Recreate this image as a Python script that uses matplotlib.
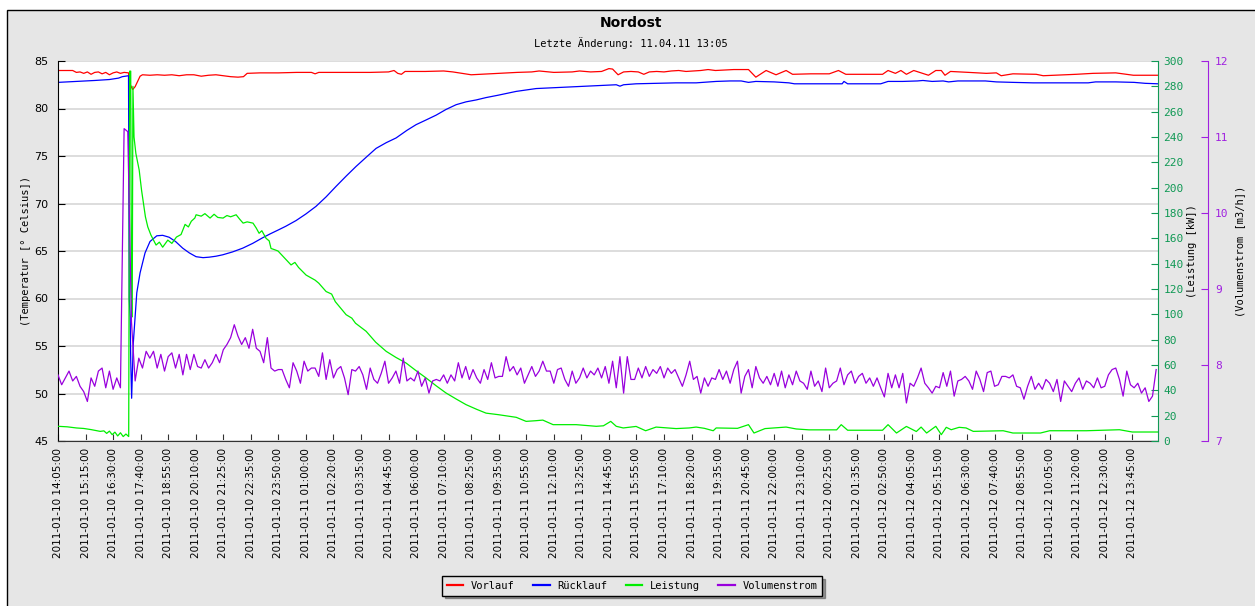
import numpy as np
import matplotlib.pyplot as plt
from matplotlib.patches import Rectangle
from matplotlib.lines import Line2D

# x axis: measurement index (5 min steps), one label every 15 points
x_labels = [
    "2011-01-10 14:05:00", "2011-01-10 15:15:00", "2011-01-10 16:30:00", "2011-01-10 17:40:00",
    "2011-01-10 18:55:00", "2011-01-10 20:10:00", "2011-01-10 21:25:00", "2011-01-10 22:35:00",
    "2011-01-10 23:50:00", "2011-01-11 01:00:00", "2011-01-11 02:20:00", "2011-01-11 03:35:00",
    "2011-01-11 04:45:00", "2011-01-11 06:00:00", "2011-01-11 07:10:00", "2011-01-11 08:25:00",
    "2011-01-11 09:35:00", "2011-01-11 10:55:00", "2011-01-11 12:10:00", "2011-01-11 13:25:00",
    "2011-01-11 14:45:00", "2011-01-11 15:55:00", "2011-01-11 17:10:00", "2011-01-11 18:20:00",
    "2011-01-11 19:35:00", "2011-01-11 20:45:00", "2011-01-11 22:00:00", "2011-01-11 23:10:00",
    "2011-01-12 00:25:00", "2011-01-12 01:35:00", "2011-01-12 02:50:00", "2011-01-12 04:05:00",
    "2011-01-12 05:15:00", "2011-01-12 06:30:00", "2011-01-12 07:40:00", "2011-01-12 08:55:00",
    "2011-01-12 10:05:00", "2011-01-12 11:20:00", "2011-01-12 12:30:00", "2011-01-12 13:45:00",
]
label_step = 15
n_points = 599

# Vorlauf temperature (index, degC)
vorlauf = [
    (0, 84.0), (8, 84.0), (10, 83.8), (12, 83.85), (14, 83.7), (16, 83.85), (18, 83.6), (20, 83.8),
    (22, 83.85), (24, 83.65), (26, 83.8), (28, 83.55), (30, 83.75), (32, 83.85), (34, 83.7), (36, 83.8),
    (38.4, 83.75), (38.8, 82.7), (40.7, 82.0), (42, 82.3), (44.7, 83.4), (46, 83.55), (50, 83.5),
    (54, 83.55), (58, 83.5), (62, 83.55), (66, 83.45), (70, 83.55), (74, 83.55), (78, 83.4), (82, 83.5),
    (86, 83.55), (90, 83.45), (94, 83.35), (98, 83.3), (101, 83.35), (103, 83.7), (110, 83.75),
    (120, 83.75), (130, 83.8), (138, 83.8), (140, 83.65), (142, 83.8), (150, 83.8), (160, 83.8),
    (170, 83.8), (180, 83.85), (183, 84.0), (185, 83.7), (187, 83.6), (189, 83.9), (200, 83.9),
    (210, 83.95), (215, 83.85), (220, 83.7), (225, 83.55), (230, 83.6), (235, 83.65), (240, 83.7),
    (245, 83.75), (250, 83.8), (258, 83.85), (262, 83.95), (270, 83.8), (280, 83.85), (284, 83.95),
    (290, 83.85), (296, 83.9), (300, 84.2), (302, 84.15), (305, 83.55), (308, 83.85), (312, 83.9),
    (316, 83.85), (319, 83.6), (322, 83.85), (326, 83.9), (330, 83.85), (334, 83.95), (338, 84.0),
    (342, 83.9), (346, 83.95), (350, 84.0), (354, 84.1), (358, 84.0), (368, 84.1), (372, 84.1),
    (376, 84.1), (380, 83.3), (385.6, 84.0), (391, 83.55), (396.5, 84.0), (400, 83.6), (410, 83.65),
    (420, 83.65), (425, 84.0), (429, 83.6), (440, 83.6), (449, 83.6), (452, 84.0), (456, 83.7),
    (459, 84.0), (462, 83.6), (466, 84.0), (474, 83.5), (478, 84.0), (481, 84.0), (483, 83.5),
    (486, 83.9), (496, 83.8), (505.5, 83.7), (511, 83.75), (513.6, 83.45), (520, 83.65),
    (532.7, 83.6), (536.5, 83.45), (554.5, 83.6), (563.6, 83.7), (576, 83.75), (585.6, 83.5),
    (599, 83.5),
]

# Ruecklauf temperature (index, degC)
ruecklauf = [
    (0, 82.75), (10, 82.85), (20, 82.95), (28, 83.05), (33, 83.2), (35, 83.35), (38.4, 83.45),
    (38.8, 60.0), (39.3, 58.0), (39.6, 53.5), (40.1, 49.5), (41.0, 55.3), (42.9, 60.6), (44.7, 62.7),
    (47.4, 64.8), (50.1, 66.0), (53.8, 66.6), (57, 66.65), (60.5, 66.45), (64, 66.0), (67.9, 65.3),
    (71.5, 64.8), (75.2, 64.4), (79, 64.3), (82.3, 64.35), (86, 64.45), (89.7, 64.6), (95, 64.9),
    (100.6, 65.3), (106, 65.8), (111.5, 66.4), (115.5, 66.8), (119.8, 67.2), (124, 67.6),
    (129.6, 68.2), (135, 68.9), (140.5, 69.7), (146, 70.7), (151.4, 71.8), (157, 72.9),
    (162.3, 73.9), (168, 74.9), (173.2, 75.8), (178.7, 76.4), (184.1, 76.9), (190, 77.7),
    (195, 78.3), (200.5, 78.8), (205.9, 79.3), (211.3, 79.9), (216.8, 80.4), (222.2, 80.7),
    (227.7, 80.9), (233.1, 81.15), (239.7, 81.4), (249.5, 81.8), (260.4, 82.1), (271.3, 82.2),
    (282.2, 82.3), (293.1, 82.4), (304, 82.5), (306, 82.35), (308, 82.5), (314.8, 82.6),
    (325.7, 82.65), (336.6, 82.7), (347.5, 82.7), (358.4, 82.85), (366, 82.9), (372, 82.9),
    (376, 82.75), (380, 82.85), (390, 82.8), (398, 82.7), (401, 82.6), (410, 82.6), (420, 82.6),
    (427, 82.6), (428, 82.85), (430, 82.6), (440, 82.6), (448, 82.6), (452, 82.85), (460, 82.85),
    (468, 82.9), (471, 82.95), (476, 82.85), (482, 82.9), (485, 82.8), (490, 82.9), (505, 82.9),
    (511, 82.8), (520, 82.75), (531, 82.7), (545, 82.7), (561, 82.7), (565, 82.8), (576, 82.8),
    (586, 82.75), (592, 82.65), (599, 82.6),
]

# Leistung (index, kW)
leistung = [
    (0, 11.6), (5, 11.2), (10, 10.3), (14, 9.9), (18, 9.0), (21, 8.2), (23, 7.6), (25, 8.0),
    (26.5, 6.0), (28, 7.8), (29.5, 5.0), (31, 7.0), (32.5, 4.0), (34, 6.5), (35.5, 3.5), (37, 5.5),
    (38.5, 3.5), (39.0, 292.0), (39.6, 292.0), (40.0, 98.0), (40.4, 98.0), (40.8, 280.0),
    (41.4, 240.0), (42.4, 227.0), (44.2, 214.0), (45.5, 198.0), (47.6, 177.0), (48.9, 169.0),
    (50.6, 162.6), (53.4, 154.7), (55.2, 157.0), (57.0, 153.0), (59.8, 158.6), (62, 156.0),
    (64.5, 161.0), (67, 163.0), (69.2, 171.0), (71, 169.0), (72.6, 173.5), (74.5, 176.0),
    (75.2, 178.6), (78, 177.5), (80, 179.5), (82.8, 176.0), (85, 179.0), (87, 176.5), (89.9, 176.0),
    (92, 178.0), (94, 177.0), (97, 178.6), (99, 175.0), (100.8, 172.0), (103, 173.0),
    (106.2, 172.0), (108, 168.0), (109.5, 164.0), (111, 166.0), (113.3, 160.0), (115, 158.0),
    (116, 152.0), (118, 151.0), (119.8, 150.0), (123, 145.0), (126.9, 139.0), (129, 141.0),
    (131, 137.0), (135.1, 131.0), (140, 127.0), (142, 124.6), (146, 118.0), (149, 116.0),
    (151, 110.0), (156.9, 99.7), (160, 97.0), (162, 93.0), (167.8, 86.6), (173, 78.0),
    (178.7, 70.8), (184, 66.0), (189.6, 61.5), (195, 55.5), (200.5, 49.7), (206, 43.5),
    (211.3, 37.9), (217, 33.0), (222.2, 28.7), (228, 25.0), (233.1, 22.0), (239.7, 20.8),
    (249.5, 18.7), (254.9, 15.5), (260, 16.0), (264, 16.5), (269.6, 12.9), (282.2, 12.9),
    (293.1, 11.6), (297, 12.0), (301, 15.5), (304, 11.6), (307.8, 10.3), (314.8, 11.5), (320, 8.1),
    (325.7, 11.0), (330, 10.5), (336.6, 9.8), (343.7, 10.3), (347.5, 11.0), (352, 10.0),
    (356.8, 8.1), (358.4, 10.3), (370, 10.0), (376, 12.9), (379, 6.3), (385, 9.8), (396.5, 11.0),
    (402, 9.5), (409, 8.8), (424, 8.8), (426.5, 12.9), (430, 8.5), (449, 8.5), (452, 12.9),
    (456.6, 6.3), (462, 11.5), (467.4, 7.5), (470, 11.0), (473, 6.3), (478, 11.6), (481, 5.0),
    (483.7, 10.8), (486.4, 8.9), (490.7, 10.8), (494.5, 10.3), (498.4, 7.6), (514.7, 8.1),
    (520, 6.3), (535, 6.3), (540, 8.1), (560, 8.1), (578, 8.9), (585, 7.1), (599, 7.1),
]

# Volumenstrom (m3/h), one value every 2 measurement points
volumenstrom = [
    7.87, 7.74, 7.83, 7.92, 7.79, 7.85, 7.72, 7.65, 7.52, 7.83, 7.72, 7.92, 7.96, 7.70, 7.92,
    7.68, 7.83, 7.70, 11.11, 11.07, 8.57, 7.79, 8.09, 7.96, 8.18, 8.09, 8.18, 7.96, 8.14, 7.92,
    8.11, 8.16, 7.96, 8.14, 7.87, 8.14, 7.94, 8.14, 7.98, 7.96, 8.07, 7.96, 8.03, 8.14, 8.03,
    8.20, 8.27, 8.36, 8.53, 8.38, 8.27, 8.36, 8.22, 8.47, 8.22, 8.18, 8.03, 8.36, 7.96, 7.92,
    7.94, 7.94, 7.81, 7.70, 8.03, 7.92, 7.76, 8.05, 7.92, 7.96, 7.96, 7.85, 8.16, 7.81, 8.07,
    7.83, 7.94, 7.98, 7.83, 7.61, 7.94, 7.92, 7.98, 7.87, 7.68, 7.96, 7.81, 7.76, 7.89, 8.05,
    7.76, 7.83, 7.92, 7.76, 8.09, 7.79, 7.83, 7.79, 7.92, 7.72, 7.83, 7.63, 7.79, 7.81, 7.79,
    7.87, 7.76, 7.87, 7.79, 8.03, 7.83, 7.98, 7.81, 7.94, 7.83, 7.76, 7.94, 7.81, 8.03, 7.83,
    7.85, 7.85, 8.11, 7.92, 7.98, 7.87, 7.96, 7.76, 7.87, 7.98, 7.85, 7.92, 8.05, 7.92, 7.92,
    7.76, 7.94, 7.96, 7.81, 7.72, 7.92, 7.76, 7.83, 7.96, 7.83, 7.92, 7.87, 7.96, 7.83, 7.98,
    7.76, 8.05, 7.70, 8.11, 7.63, 8.11, 7.81, 7.81, 7.96, 7.83, 7.98, 7.85, 7.94, 7.89, 7.98,
    7.83, 7.96, 7.89, 7.94, 7.83, 7.72, 7.87, 8.05, 7.81, 7.85, 7.63, 7.83, 7.72, 7.83, 7.81,
    7.94, 7.81, 7.92, 7.76, 7.94, 8.05, 7.63, 7.85, 7.94, 7.70, 7.98, 7.83, 7.76, 7.85, 7.74,
    7.89, 7.72, 7.92, 7.70, 7.87, 7.74, 7.92, 7.79, 7.76, 7.68, 7.92, 7.72, 7.79, 7.65, 7.96,
    7.70, 7.76, 7.79, 7.96, 7.74, 7.87, 7.92, 7.76, 7.85, 7.89, 7.76, 7.83, 7.72, 7.83, 7.70,
    7.58, 7.89, 7.70, 7.87, 7.70, 7.89, 7.50, 7.76, 7.72, 7.83, 7.96, 7.76, 7.70, 7.63, 7.72,
    7.70, 7.90, 7.72, 7.92, 7.59, 7.79, 7.81, 7.85, 7.79, 7.68, 7.92, 7.81, 7.65, 7.90, 7.92,
    7.72, 7.74, 7.85, 7.85, 7.83, 7.87, 7.72, 7.70, 7.55, 7.72, 7.85, 7.68, 7.76, 7.68, 7.81,
    7.76, 7.65, 7.81, 7.52, 7.79, 7.72, 7.65, 7.76, 7.83, 7.68, 7.79, 7.76, 7.70, 7.83, 7.70,
    7.72, 7.87, 7.94, 7.96, 7.81, 7.59, 7.92, 7.74, 7.70, 7.76, 7.63, 7.70, 7.52, 7.59, 7.94,
]
volumenstrom_step = 2

RED = "#ff0000"
BLUE = "#0000ff"
LIME = "#00ee00"
PURPLE = "#9900dd"
GREEN_AX = "#119955"
PURPLE_AX = "#a020e0"
BG = "#e6e6e6"
MONO = "DejaVu Sans Mono"

W, H = 1255, 606
fig = plt.figure(figsize=(W / 100, H / 100), dpi=100)
fig.patch.set_facecolor("white")
fig.add_artist(Rectangle((7 / W, -0.05), 1.0, 1.05 - 10 / H, transform=fig.transFigure,
                         facecolor=BG, edgecolor="black", linewidth=1, zorder=-5))

left, right, top, bottom = 58, 1158, 61, 441
ax = fig.add_axes([left / W, 1 - bottom / H, (right - left) / W, (bottom - top) / H])
ax.set_facecolor("white")
ax2 = ax.twinx()
ax3 = ax.twinx()
ax3.spines["right"].set_position(("axes", (1208 - left) / (right - left)))

t, v = zip(*vorlauf)
ax.plot(t, v, color=RED, lw=0.9)
t, v = zip(*ruecklauf)
ax.plot(t, v, color=BLUE, lw=0.9)
t, v = zip(*leistung)
ax2.plot(t, v, color=LIME, lw=0.9)
ax3.plot(np.arange(len(volumenstrom)) * volumenstrom_step, volumenstrom, color=PURPLE, lw=0.9)

ax.set_xlim(0, n_points)
ax.set_ylim(45, 85)
ax2.set_ylim(0, 300)
ax3.set_ylim(7, 12)

ax.set_yticks(range(45, 86, 5))
ax2.set_yticks(range(0, 301, 20))
ax3.set_yticks(range(7, 13))
ax.set_xticks([i * label_step for i in range(len(x_labels))])
ax.set_xticklabels(x_labels, rotation=90, fontsize=7.5, va="top", ha="center")

ax.yaxis.grid(True, color="#dddddd", lw=1.4)
ax.set_axisbelow(True)

for s in ("top", "right"):
    ax.spines[s].set_visible(False)
ax.spines["left"].set_color("black")
ax.spines["bottom"].set_color("#333333")
for a in (ax2, ax3):
    for s in ("top", "left", "bottom"):
        a.spines[s].set_visible(False)
ax2.spines["right"].set_color(GREEN_AX)
ax3.spines["right"].set_color(PURPLE_AX)

ax.tick_params(axis="y", direction="in", length=5, labelsize=8, pad=7)
ax.tick_params(axis="x", direction="in", length=5, pad=5, color="#333333")
ax2.tick_params(axis="y", direction="in", length=5, colors=GREEN_AX, labelsize=8, pad=4)
ax3.tick_params(axis="y", direction="in", length=5, colors=PURPLE_AX, labelsize=8, pad=5)
for lbl in ax2.get_yticklabels() + ax3.get_yticklabels():
    lbl.set_family(MONO)

# titles and axis captions
fig.text(631 / W, 1 - 23 / H, "Nordost", fontsize=10, weight="bold", ha="center", va="center")
fig.text(631 / W, 1 - 43 / H, "Letzte Änderung: 11.04.11 13:05", family=MONO, fontsize=7.5,
         ha="center", va="center")
fig.text(26 / W, 1 - 251 / H, "(Temperatur [° Celsius])", family=MONO, fontsize=7.5,
         rotation=90, ha="center", va="center")
fig.text(1192 / W, 1 - 251 / H, "(Leistung [kW])", family=MONO, fontsize=7.5,
         rotation=90, ha="center", va="center")
fig.text(1240 / W, 1 - 251 / H, "(Volumenstrom [m3/h])", family=MONO, fontsize=7.5,
         rotation=90, ha="center", va="center")

handles = [Line2D([], [], color=c, lw=1.6) for c in (RED, BLUE, LIME, PURPLE)]
leg = fig.legend(handles, ["Vorlauf", "Rücklauf", "Leistung", "Volumenstrom"],
                 loc="center", bbox_to_anchor=(632 / W, 1 - 586 / H), ncol=4,
                 prop={"family": MONO, "size": 7.5}, frameon=True, fancybox=False,
                 shadow=True, edgecolor="black", facecolor=BG, framealpha=1,
                 handlelength=1.6, handletextpad=0.7, columnspacing=1.8, borderpad=0.45)
leg.get_frame().set_linewidth(1)

fig.savefig("out.png", dpi=100)
